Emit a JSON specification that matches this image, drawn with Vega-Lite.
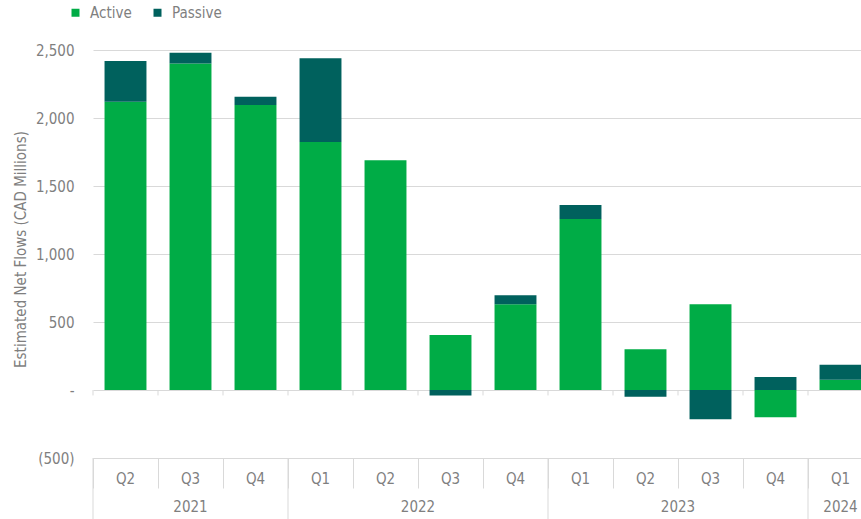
{
  "$schema": "https://vega.github.io/schema/vega-lite/v6.json",
  "width": 768,
  "height": 408,
  "autosize": {"type": "none"},
  "padding": {"left": 93, "top": 50, "right": 0, "bottom": 61},
  "config": {
    "view": {"stroke": null},
    "font": "Liberation Sans Narrow, Arial Narrow, DejaVu Sans Condensed, sans-serif",
    "text": {"font": "Liberation Sans Narrow, Arial Narrow, DejaVu Sans Condensed, sans-serif"}
  },
  "datasets": {
    "flows": [
      {"period": "2021 Q2", "type": "Active", "value": 2120},
      {"period": "2021 Q2", "type": "Passive", "value": 300},
      {"period": "2021 Q3", "type": "Active", "value": 2400},
      {"period": "2021 Q3", "type": "Passive", "value": 80},
      {"period": "2021 Q4", "type": "Active", "value": 2095},
      {"period": "2021 Q4", "type": "Passive", "value": 62},
      {"period": "2022 Q1", "type": "Active", "value": 1824},
      {"period": "2022 Q1", "type": "Passive", "value": 615},
      {"period": "2022 Q2", "type": "Active", "value": 1690},
      {"period": "2022 Q2", "type": "Passive", "value": 0},
      {"period": "2022 Q3", "type": "Active", "value": 405},
      {"period": "2022 Q3", "type": "Passive", "value": -40},
      {"period": "2022 Q4", "type": "Active", "value": 630},
      {"period": "2022 Q4", "type": "Passive", "value": 66},
      {"period": "2023 Q1", "type": "Active", "value": 1257},
      {"period": "2023 Q1", "type": "Passive", "value": 103},
      {"period": "2023 Q2", "type": "Active", "value": 300},
      {"period": "2023 Q2", "type": "Passive", "value": -50},
      {"period": "2023 Q3", "type": "Active", "value": 630},
      {"period": "2023 Q3", "type": "Passive", "value": -215},
      {"period": "2023 Q4", "type": "Active", "value": -200},
      {"period": "2023 Q4", "type": "Passive", "value": 95},
      {"period": "2024 Q1", "type": "Active", "value": 75},
      {"period": "2024 Q1", "type": "Passive", "value": 110}
    ],
    "yearStarts": [
      {"period": "2021 Q2"},
      {"period": "2022 Q1"},
      {"period": "2023 Q1"},
      {"period": "2024 Q1"}
    ],
    "yearMid": [
      {"period": "2021 Q3", "year": "2021"},
      {"period": "2024 Q1", "year": "2024"}
    ],
    "yearEdge": [
      {"period": "2022 Q3", "year": "2022"},
      {"period": "2023 Q3", "year": "2023"}
    ]
  },
  "layer": [
    {
      "data": {"name": "flows"},
      "mark": {"type": "bar", "width": {"band": 0.645}},
      "encoding": {
        "x": {
          "field": "period",
          "type": "nominal",
          "title": null,
          "scale": {"paddingInner": 0, "paddingOuter": 0, "range": [0, 780]},
          "axis": {
            "orient": "bottom",
            "bandPosition": 0,
            "domain": true,
            "domainColor": "#d9d9d9",
            "domainWidth": 1,
            "ticks": true,
            "tickColor": "#d9d9d9",
            "tickSize": 30,
            "tickWidth": 1,
            "grid": false,
            "labelAngle": 0,
            "labelExpr": "split(datum.label, ' ')[1]",
            "labelBaseline": "middle",
            "labelPadding": -10,
            "labelFontSize": 15,
            "labelColor": "#7f7f7f"
          }
        },
        "y": {
          "aggregate": "sum",
          "field": "value",
          "type": "quantitative",
          "stack": "zero",
          "scale": {"domain": [-500, 2500], "nice": false, "zero": false},
          "axis": {
            "title": "Estimated Net Flows (CAD Millions)",
            "titleFontSize": 15,
            "titleFontWeight": "normal",
            "titleColor": "#7f7f7f",
            "titleX": -73,
            "titleY": 199,
            "titleBaseline": "middle",
            "values": [-500, 0, 500, 1000, 1500, 2000, 2500],
            "labelExpr": "datum.value == 0 ? '-\u00a0\u00a0' : (datum.value < 0 ? '(' + format(-datum.value, ',') + ')' : format(datum.value, ','))",
            "labelFontSize": 15,
            "labelColor": "#7f7f7f",
            "labelPadding": 19,
            "domain": false,
            "ticks": false,
            "grid": true,
            "gridColor": "#d9d9d9",
            "gridWidth": 1
          }
        },
        "color": {
          "field": "type",
          "type": "nominal",
          "scale": {"domain": ["Active", "Passive"], "range": ["#00ac46", "#00615d"]},
          "legend": {
            "title": null,
            "orient": "none",
            "legendX": -25,
            "legendY": -45,
            "direction": "horizontal",
            "symbolType": "square",
            "symbolSize": 64,
            "symbolStrokeWidth": 0,
            "labelFontSize": 15,
            "labelColor": "#7f7f7f",
            "labelOffset": 7,
            "columnPadding": 18,
            "padding": 0
          }
        },
        "order": {"field": "type", "sort": "ascending"}
      }
    },
    {
      "mark": {"type": "rule", "color": "#d9d9d9", "strokeWidth": 1},
      "encoding": {
        "y": {"datum": 0, "type": "quantitative"}
      }
    },
    {
      "data": {"name": "flows"},
      "transform": [{"filter": "datum.type == 'Active'"}],
      "mark": {"type": "rule", "color": "#d9d9d9", "strokeWidth": 1},
      "encoding": {
        "x": {"field": "period", "type": "nominal", "bandPosition": 0, "title": null},
        "y": {"datum": 0, "type": "quantitative"},
        "y2": {"datum": -40}
      }
    },
    {
      "data": {"name": "yearStarts"},
      "mark": {"type": "rule", "color": "#d9d9d9", "strokeWidth": 1},
      "encoding": {
        "x": {"field": "period", "type": "nominal", "bandPosition": 0, "title": null},
        "y": {"datum": -500, "type": "quantitative"},
        "y2": {"datum": -960}
      }
    },
    {
      "data": {"name": "yearMid"},
      "mark": {"type": "text", "fontSize": 15, "color": "#7f7f7f", "baseline": "middle", "align": "center"},
      "encoding": {
        "x": {"field": "period", "type": "nominal", "bandPosition": 0.5, "title": null},
        "y": {"datum": -860, "type": "quantitative"},
        "text": {"field": "year"}
      }
    },
    {
      "data": {"name": "yearEdge"},
      "mark": {"type": "text", "fontSize": 15, "color": "#7f7f7f", "baseline": "middle", "align": "center"},
      "encoding": {
        "x": {"field": "period", "type": "nominal", "bandPosition": 0, "title": null},
        "y": {"datum": -860, "type": "quantitative"},
        "text": {"field": "year"}
      }
    }
  ]
}
